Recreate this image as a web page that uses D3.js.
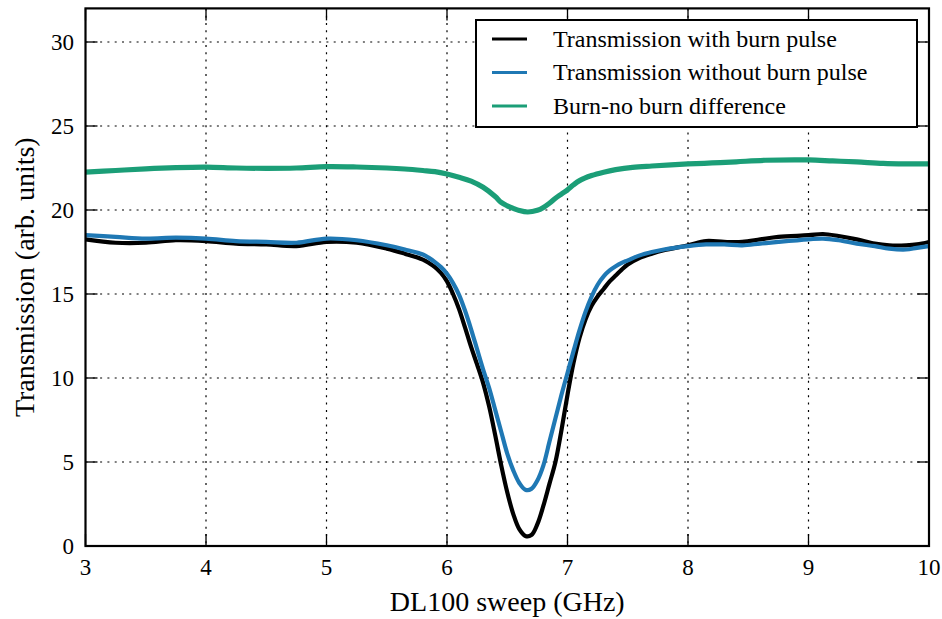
<!DOCTYPE html>
<html>
<head>
<meta charset="utf-8">
<script src="https://cdn.jsdelivr.net/npm/d3@7"></script>
<style>
  html, body { margin: 0; padding: 0; background: #fff; }
  svg { display: block; }
  svg text { font-family: "Liberation Serif", "Times New Roman", serif; fill: #000; }
</style>
</head>
<body>
<svg id="chart" width="942" height="619" font-family="Liberation Serif, serif"></svg>
<script>
// Sweep positions (GHz) shared by both transmission traces
const sweepGHz = [3.0, 3.25, 3.5, 3.75, 4.0, 4.25, 4.5, 4.75, 5.0, 5.25, 5.5, 5.65, 5.8, 5.85, 5.9, 5.95,
  6.0, 6.05, 6.1, 6.15, 6.2, 6.25, 6.3, 6.35, 6.4, 6.45, 6.5, 6.55, 6.6, 6.65, 6.7, 6.75,
  6.8, 6.85, 6.9, 6.95, 7.0, 7.05, 7.1, 7.15, 7.2, 7.25, 7.3, 7.35, 7.4, 7.45, 7.5, 7.6, 7.7, 7.8,
  8.0, 8.15, 8.3, 8.45, 8.6, 8.75, 9.0, 9.12, 9.25, 9.4, 9.55, 9.67, 9.81, 9.9, 10.0];

// Transmission with burn pulse (arb. units)
const withBurn = [18.25, 18.05, 18.05, 18.2, 18.15, 18.0, 17.95, 17.85, 18.1, 18.05, 17.7, 17.4, 17.05, 16.85, 16.6, 16.25,
  15.75, 15.0, 14.1, 13.0, 11.85, 10.8, 9.7, 8.3, 6.6, 4.8, 3.2, 1.9, 1.0, 0.6, 0.65, 1.3,
  2.4, 3.7, 5.0, 6.9, 9.0, 10.9, 12.4, 13.5, 14.3, 14.85, 15.3, 15.75, 16.1, 16.45, 16.75, 17.15, 17.4, 17.6,
  17.9, 18.15, 18.1, 18.1, 18.25, 18.4, 18.5, 18.57, 18.45, 18.25, 18.0, 17.9, 17.9, 17.95, 18.1];

// Transmission without burn pulse (arb. units)
const withoutBurn = [18.5, 18.4, 18.3, 18.35, 18.3, 18.15, 18.1, 18.05, 18.3, 18.2, 17.9, 17.65, 17.35, 17.15, 16.9, 16.6,
  16.2, 15.65, 14.95, 14.0, 12.9, 11.7, 10.5, 9.4, 8.1, 6.8, 5.5, 4.5, 3.75, 3.35, 3.4, 3.9,
  4.8, 6.2, 7.6, 9.0, 10.3, 11.6, 12.85, 13.95, 14.85, 15.55, 16.05, 16.4, 16.65, 16.85, 17.0, 17.3, 17.5, 17.65,
  17.85, 17.95, 17.95, 17.9, 18.0, 18.1, 18.25, 18.3, 18.2, 18.0, 17.85, 17.7, 17.65, 17.75, 17.85];

// Burn - no burn difference trace
const diffGHz = [3.0, 3.25, 3.5, 3.75, 4.0, 4.25, 4.5, 4.75, 5.0, 5.25, 5.5, 5.65, 5.8, 5.9,
  6.0, 6.1, 6.2, 6.3, 6.4, 6.45, 6.5, 6.55, 6.6, 6.67, 6.75, 6.8, 6.85, 6.9, 6.95, 7.0,
  7.05, 7.1, 7.2, 7.3, 7.4, 7.54, 7.7, 8.0, 8.2, 8.4, 8.64, 9.0, 9.2, 9.4, 9.62, 9.8, 10.0];
const burnDiff = [22.25, 22.35, 22.45, 22.52, 22.55, 22.5, 22.48, 22.5, 22.58, 22.56, 22.5, 22.44, 22.35, 22.28,
  22.14, 21.95, 21.72, 21.35, 20.8, 20.45, 20.25, 20.1, 19.97, 19.88, 19.98, 20.15, 20.4, 20.7, 20.95, 21.2,
  21.5, 21.75, 22.05, 22.25, 22.4, 22.54, 22.62, 22.74, 22.8, 22.87, 22.96, 22.98, 22.92, 22.86, 22.78, 22.75, 22.74];

const xTicks = [3, 4, 5, 6, 7, 8, 9, 10];
const yTicks = [0, 5, 10, 15, 20, 25, 30];

const seriesNames = ["Transmission with burn pulse", "Transmission without burn pulse", "Burn-no burn difference"];
const seriesColors = ["#000000", "#1f78b4", "#1b9e77"];

const svg = d3.select("#chart");
const plot = { left: 85.5, right: 929, top: 8.4, bottom: 546 };

const x = d3.scaleLinear().domain([3, 10]).range([plot.left, plot.right]);
const y = d3.scaleLinear().domain([0, 32]).range([plot.bottom, plot.top]);

// Dotted grid
const grid = svg.append("g").attr("stroke", "#000").attr("stroke-width", 1.2)
  .attr("stroke-dasharray", "2,5.3");
grid.selectAll("line.gx").data(xTicks.filter(t => t > 3 && t < 10)).join("line")
  .attr("x1", d => x(d)).attr("x2", d => x(d)).attr("y1", plot.top).attr("y2", plot.bottom);
grid.selectAll("line.gy").data(yTicks.filter(t => t > 0)).join("line")
  .attr("y1", d => y(d)).attr("y2", d => y(d)).attr("x1", plot.left).attr("x2", plot.right);

// Traces
const series = [
  { xs: sweepGHz, ys: withBurn, w: 4.2 },
  { xs: sweepGHz, ys: withoutBurn, w: 4.2 },
  { xs: diffGHz, ys: burnDiff, w: 5.2 }
];
const line = d3.line().x(d => x(d[0])).y(d => y(d[1])).curve(d3.curveCatmullRom.alpha(0.5));
const clip = svg.append("clipPath").attr("id", "plotclip").append("rect")
  .attr("x", plot.left).attr("y", plot.top)
  .attr("width", plot.right - plot.left).attr("height", plot.bottom - plot.top);
const traces = svg.append("g").attr("clip-path", "url(#plotclip)");
series.forEach((s, i) => {
  traces.append("path")
    .datum(s.xs.map((v, k) => [v, s.ys[k]]))
    .attr("fill", "none")
    .attr("stroke", seriesColors[i])
    .attr("stroke-width", s.w)
    .attr("stroke-linejoin", "round")
    .attr("d", line);
});

// Inward ticks on all four sides
const tickLen = 12;
const ticks = svg.append("g").attr("stroke", "#000").attr("stroke-width", 1.3);
xTicks.forEach(t => {
  ticks.append("line").attr("x1", x(t)).attr("x2", x(t)).attr("y1", plot.bottom).attr("y2", plot.bottom - tickLen);
  ticks.append("line").attr("x1", x(t)).attr("x2", x(t)).attr("y1", plot.top).attr("y2", plot.top + tickLen);
});
yTicks.forEach(t => {
  ticks.append("line").attr("y1", y(t)).attr("y2", y(t)).attr("x1", plot.left).attr("x2", plot.left + tickLen);
  ticks.append("line").attr("y1", y(t)).attr("y2", y(t)).attr("x1", plot.right).attr("x2", plot.right - tickLen);
});

// Frame
svg.append("rect")
  .attr("x", plot.left).attr("y", plot.top)
  .attr("width", plot.right - plot.left).attr("height", plot.bottom - plot.top)
  .attr("fill", "none").attr("stroke", "#000").attr("stroke-width", 2.2);

// Tick labels
svg.append("g").selectAll("text").data(xTicks).join("text")
  .attr("x", d => x(d)).attr("y", 575)
  .attr("text-anchor", "middle").attr("font-size", 23)
  .text(d => d);
svg.append("g").selectAll("text").data(yTicks).join("text")
  .attr("x", 74).attr("y", d => y(d) + 8)
  .attr("text-anchor", "end").attr("font-size", 23)
  .text(d => d);

// Axis titles
svg.append("text")
  .attr("x", (plot.left + plot.right) / 2).attr("y", 611)
  .attr("text-anchor", "middle").attr("font-size", 28)
  .text("DL100 sweep (GHz)");
svg.append("text")
  .attr("transform", `translate(33.5,${(plot.top + plot.bottom) / 2}) rotate(-90)`)
  .attr("text-anchor", "middle").attr("font-size", 28)
  .text("Transmission (arb. units)");

// Legend
const legend = svg.append("g");
legend.append("rect")
  .attr("x", 476).attr("y", 20).attr("width", 441).attr("height", 107)
  .attr("fill", "#fff").attr("stroke", "#000").attr("stroke-width", 2);
seriesNames.forEach((name, i) => {
  const ly = 39 + i * 33.5;
  legend.append("line")
    .attr("x1", 492).attr("x2", 527).attr("y1", ly).attr("y2", ly)
    .attr("stroke", seriesColors[i]).attr("stroke-width", 3);
  legend.append("text")
    .attr("x", 553).attr("y", ly + 7.5)
    .attr("font-size", 24)
    .text(name);
});
</script>
</body>
</html>
